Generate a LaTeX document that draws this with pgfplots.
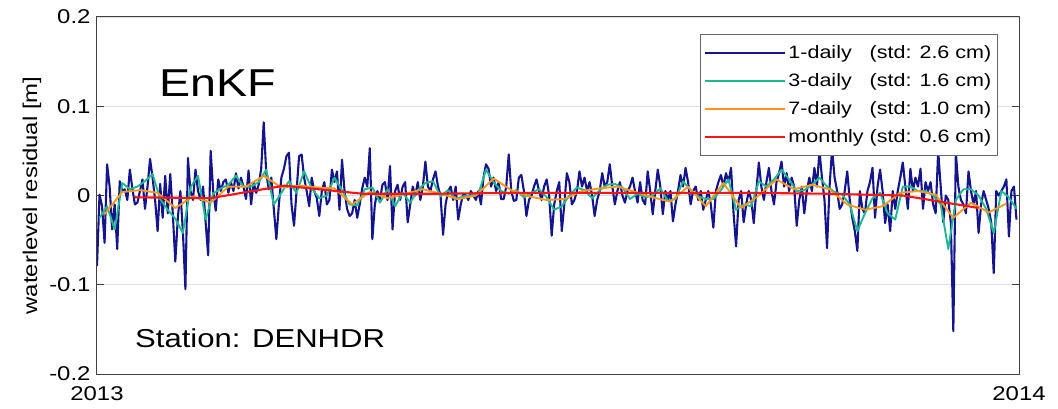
\documentclass[border=0pt]{standalone}
\usepackage{pgfplots}
\pgfplotsset{compat=1.18}
\usepackage{fontspec}
\setmainfont{Liberation Sans}[FakeStretch=1.2]
\definecolor{cblue}{RGB}{20,20,140}
\definecolor{cgreen}{RGB}{30,185,145}
\definecolor{corange}{RGB}{255,150,30}
\definecolor{cred}{RGB}{250,20,20}
\begin{document}
\begin{tikzpicture}
\path[use as bounding box] (-97bp,-35bp) rectangle (961bp,374bp);
\begin{axis}[
  at={(0,0)}, anchor=south west,
  scale only axis, width=922bp, height=357bp,
  xmin=0, xmax=365, ymin=-20, ymax=20,
  xtick={0,365}, xticklabels={2013,2014},
  ytick={-20,-10,0,10,20}, yticklabels={-0.2,-0.1,0,0.1,0.2},
  tick align=inside, major tick length=7bp,
  ymajorgrids, grid style={draw=black!12, line width=0.8bp},
  axis line style={draw=black!75, line width=1bp},
  tick style={draw=black!75, line width=1bp},
  ticklabel style={font=\fontsize{20}{20}\selectfont},
  xticklabel style={yshift=-9bp},
  yticklabel style={xshift=-3bp},
  ylabel={waterlevel residual [m]},
  every axis y label/.style={at={(rel axis cs:0,0.5)}, xshift=-65bp, rotate=90, anchor=center, font=\fontsize{20}{20}\selectfont},
  legend style={at={(0.977,0.952)}, anchor=north east, draw=black!60, line width=1bp, fill=white,
    font=\fontsize{18}{18}\selectfont, cells={anchor=west}, row sep=9.5bp, inner ysep=9bp, inner xsep=4bp},
  legend image code/.code={\draw[#1] (0bp,0bp) -- (80bp,0bp);},
  line join=round,
]
\addplot[cblue, line width=2.1bp] coordinates {
(0,-7.9)(1,0.1)(2,-1.2)(3,-5.3)(4,3.5)(5,1.0)(6,-3.8)(7,-1.0)(8,-6.0)(9,1.6)
(10,0.5)(11,0.7)(12,-0.5)(13,2.9)(14,0.8)(15,-1.0)(16,-0.8)(17,0.5)(18,1.8)(19,-1.5)
(20,1.0)(21,4.1)(22,2.0)(23,-0.5)(24,-4.0)(25,1.3)(26,-2.5)(27,2.2)(28,-2.0)(29,2.4)
(30,-2.0)(31,-7.4)(32,-2.5)(33,0.5)(34,-4.0)(35,-10.5)(36,4.2)(37,0.5)(38,-0.5)(39,2.9)
(40,0.5)(41,-0.5)(42,1.0)(43,-3.0)(44,-6.7)(45,5.0)(46,0.5)(47,-1.7)(48,1.8)(49,0.5)
(50,1.5)(51,1.8)(52,0.3)(53,1.5)(54,0.5)(55,2.5)(56,0.8)(57,2.0)(58,1.0)(59,-0.4)
(60,2.8)(61,-1.0)(62,1.5)(63,0.3)(64,1.2)(65,3.0)(66,8.2)(67,2.5)(68,0.7)(69,2.0)
(70,-1.5)(71,-4.9)(72,-1.0)(73,2.0)(74,3.0)(75,4.4)(76,4.8)(77,-1.0)(78,-3.4)(79,0.5)
(80,4.4)(81,4.6)(82,2.0)(83,0.5)(84,-1.2)(85,2.0)(86,0.5)(87,-0.3)(88,-2.3)(89,0.5)
(90,1.5)(91,-1.0)(92,-0.5)(93,2.9)(94,1.5)(95,2.7)(96,-1.6)(97,4.0)(98,0.5)(99,-1.5)
(100,-2.3)(101,-2.0)(102,-0.5)(103,-2.5)(104,-1.0)(105,0.8)(106,2.0)(107,1.0)(108,5.3)(109,-4.9)
(110,-1.0)(111,0.5)(112,-0.5)(113,1.2)(114,1.5)(115,-0.5)(116,3.3)(117,-3.8)(118,0.5)(119,1.2)
(120,-0.5)(121,1.0)(122,1.5)(123,-3.0)(124,-1.0)(125,1.0)(126,0.0)(127,1.5)(128,-0.5)(129,1.0)
(130,3.8)(131,1.0)(132,0.5)(133,1.8)(134,2.7)(135,1.0)(136,0.0)(137,-4.4)(138,-1.0)(139,0.5)
(140,1.0)(141,-0.5)(142,1.0)(143,-2.7)(144,-1.0)(145,0.2)(146,0.0)(147,-0.5)(148,0.5)(149,0.0)
(150,-0.5)(151,0.5)(152,-1.0)(153,2.0)(154,3.5)(155,3.0)(156,1.0)(157,2.0)(158,0.5)(159,1.5)
(160,-0.4)(161,-0.4)(162,1.0)(163,4.6)(164,0.5)(165,-0.6)(166,-0.5)(167,2.0)(168,2.3)(169,0.5)
(170,-2.3)(171,-0.5)(172,0.0)(173,1.0)(174,1.8)(175,0.5)(176,-0.5)(177,1.0)(178,1.8)(179,0.0)
(180,-4.5)(181,-1.0)(182,0.5)(183,1.5)(184,-4.0)(185,-1.0)(186,2.5)(187,1.5)(188,-1.0)(189,-0.5)
(190,0.5)(191,2.7)(192,1.0)(193,2.0)(194,0.5)(195,1.5)(196,0.0)(197,-2.3)(198,-0.5)(199,0.5)
(200,2.5)(201,1.0)(202,1.5)(203,3.5)(204,1.0)(205,-1.0)(206,0.5)(207,1.5)(208,0.0)(209,-0.8)
(210,0.5)(211,1.0)(212,2.0)(213,0.5)(214,-0.8)(215,1.5)(216,-0.5)(217,-1.0)(218,2.7)(219,0.5)
(220,-2.1)(221,0.5)(222,2.9)(223,1.0)(224,-2.1)(225,0.5)(226,-0.5)(227,0.5)(228,-2.9)(229,-1.0)
(230,0.5)(231,2.3)(232,1.0)(233,3.1)(234,1.5)(235,-1.0)(236,0.5)(237,1.0)(238,-0.5)(239,0.5)
(240,-1.6)(241,-0.5)(242,0.5)(243,-1.0)(244,-3.6)(245,0.5)(246,1.5)(247,2.3)(248,1.0)(249,2.5)
(250,1.5)(251,3.1)(252,-2.0)(253,-5.7)(254,-0.5)(255,0.5)(256,-3.0)(257,-1.0)(258,0.5)(259,-0.5)
(260,-3.1)(261,0.5)(262,3.7)(263,1.0)(264,-0.5)(265,1.5)(266,3.1)(267,0.5)(268,-1.0)(269,1.5)
(270,2.5)(271,3.8)(272,1.0)(273,2.5)(274,0.5)(275,2.0)(276,1.0)(277,-3.4)(278,-0.5)(279,1.0)
(280,-2.0)(281,0.5)(282,2.0)(283,0.5)(284,3.1)(285,1.0)(286,5.0)(287,2.0)(288,-0.5)(289,-5.9)
(290,1.0)(291,5.2)(292,2.0)(293,0.5)(294,-1.5)(295,-1.0)(296,0.5)(297,2.7)(298,-0.5)(299,-2.5)
(300,-4.0)(301,-6.2)(302,0.5)(303,-1.5)(304,-2.0)(305,0.5)(306,1.5)(307,3.1)(308,-2.5)(309,1.0)
(310,2.9)(311,0.5)(312,-3.1)(313,-1.0)(314,-4.0)(315,0.5)(316,-1.5)(317,0.5)(318,2.0)(319,3.7)
(320,1.0)(321,-1.5)(322,3.0)(323,0.5)(324,2.0)(325,1.0)(326,3.0)(327,-1.5)(328,1.5)(329,0.5)
(330,1.5)(331,-1.0)(332,-2.0)(333,5.0)(334,1.0)(335,-3.0)(336,0.0)(337,-0.5)(338,-3.0)(339,-15.2)
(340,4.8)(341,1.0)(342,-0.5)(343,-1.0)(344,-2.0)(345,2.7)(346,0.5)(347,-1.0)(348,0.5)(349,-4.2)
(350,-1.0)(351,0.5)(352,-0.5)(353,-1.5)(354,-3.0)(355,-8.7)(356,0.5)(357,0.0)(358,0.5)(359,1.0)
(360,1.8)(361,-4.6)(362,0.5)(363,1.0)(364,-2.7)
};
\addlegendentry{\rlap{1-daily}\hphantom{monthly} (std: 2.6 cm)}
\addplot[cgreen, line width=1.9bp] coordinates {
(1,-2.5)(4,-1.2)(7,-3.8)(10,1.4)(13,0.7)(16,1.0)(19,1.6)(22,2.4)(25,-0.4)(28,-1.6)
(31,-2.6)(34,-4.2)(37,0.9)(40,2.2)(43,-2.7)(46,0.2)(49,0.8)(52,1.2)(55,2.2)(58,1.0)
(61,1.0)(64,1.5)(67,2.9)(70,-1.0)(73,0.3)(76,1.6)(79,0.3)(82,2.7)(85,0.8)(88,-0.3)
(91,0.0)(94,2.0)(97,0.6)(100,-1.0)(103,-1.1)(106,0.7)(109,0.9)(112,-0.8)(115,0.7)(118,-1.2)
(121,0.3)(124,-0.8)(127,0.6)(130,1.4)(133,1.6)(136,-0.1)(139,0.6)(142,-0.4)(145,-0.1)(148,0.0)
(151,0.2)(154,2.9)(157,1.5)(160,0.5)(163,0.2)(166,0.6)(169,-0.2)(172,0.3)(175,0.7)(178,-0.2)
(181,-1.6)(184,-1.2)(187,0.0)(190,0.9)(193,0.6)(196,-0.3)(199,0.6)(202,1.2)(205,1.3)(208,0.9)
(211,-0.4)(214,0.2)(217,-0.2)(220,0.0)(223,0.8)(226,-0.6)(229,-0.4)(232,1.6)(235,0.6)(238,-0.1)
(241,-0.4)(244,-0.4)(247,0.6)(250,1.8)(253,-1.6)(256,-1.0)(259,-1.2)(262,1.6)(265,1.0)(268,1.8)
(271,2.9)(274,1.8)(277,0.5)(280,0.6)(283,1.2)(286,2.0)(289,1.0)(292,0.4)(295,0.1)(298,-1.0)
(301,-4.0)(304,-2.0)(307,-0.3)(310,0.3)(313,-2.0)(316,-2.7)(319,1.0)(322,1.0)(325,0.5)(328,0.5)
(331,0.0)(334,-1.0)(337,-6.0)(340,-0.5)(343,0.7)(346,0.7)(349,0.0)(352,-1.5)(355,-4.2)(358,0.5)
(361,-0.2)(364,-1.5)
};
\addlegendentry{\rlap{3-daily}\hphantom{monthly} (std: 1.6 cm)}
\addplot[corange, line width=1.9bp] coordinates {
(3,-2.1)(10,0.4)(17,0.6)(24,0.3)(31,-1.4)(38,-0.1)(45,-0.8)(52,1.0)(59,1.0)(66,2.2)
(73,0.9)(80,1.1)(87,0.9)(94,0.8)(101,-1.0)(108,0.4)(115,-0.3)(122,0.2)(129,0.7)(136,0.2)
(143,-0.4)(150,0.0)(157,1.9)(164,0.6)(171,-0.1)(178,-0.5)(185,-0.4)(192,0.5)(199,0.8)(206,1.0)
(213,0.4)(220,-0.2)(227,-0.7)(234,1.0)(241,-1.2)(248,1.4)(255,-1.4)(262,0.0)(269,1.8)(276,0.7)
(283,1.2)(290,0.7)(297,-1.0)(304,-1.6)(311,-1.2)(318,0.3)(325,0.5)(332,0.1)(339,-2.5)(346,-0.8)
(353,-1.9)(360,-0.9)
};
\addlegendentry{\rlap{7-daily}\hphantom{monthly} (std: 1.0 cm)}
\addplot[cred, line width=2.1bp] coordinates {
(15,-0.2)(45,-0.3)(74,1.1)(105,0.2)(135,0.2)(166,0.3)(196,0.3)(227,0.3)(258,0.3)(288,0.2)
(319,0.0)(349,-1.4)
};
\addlegendentry{monthly (std: 0.6 cm)}
\node[anchor=base west, inner sep=0pt, font=\fontsize{39}{39}\selectfont] at (rel axis cs:0.0676,0.777) {EnKF};
\node[anchor=base west, inner sep=0pt, font=\fontsize{26}{26}\selectfont] at (rel axis cs:0.0412,0.0748) {Station: DENHDR};
\end{axis}
\end{tikzpicture}
\end{document}
